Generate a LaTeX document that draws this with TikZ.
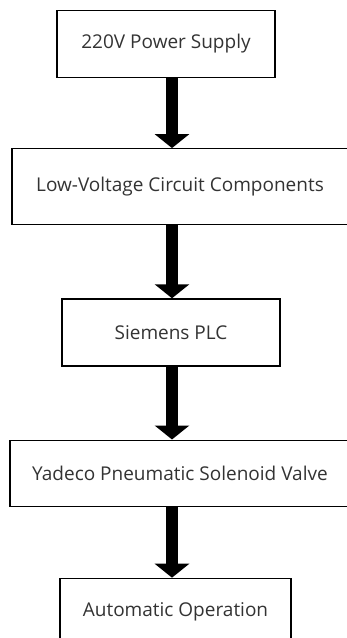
\documentclass[tikz,border=0pt]{standalone}
\usepackage{fontspec}
\setmainfont{Open Sans}
\usepackage{tikz}
\usetikzlibrary{positioning,arrows.meta}
\usepackage{xcolor}

\begin{document}
\begin{tikzpicture}[
  x=1pt, y=1pt,
  node distance=72pt,
  stage/.style={draw, line width=1.2pt, inner sep=0pt, minimum height=67pt, font=\fontsize{19}{23}\selectfont, text=black!80},
  flow/.style={-{Triangle[width=34pt,length=14pt]}, line width=12pt}
]
\useasboundingbox (0,0) rectangle (346,-638);
\node[stage, minimum width=218pt] (supply) at (166,-44) {220V Power Supply};
\node[stage, minimum width=336pt, minimum height=76pt, below=70pt of supply, xshift=14pt] (lowvolt) {Low-Voltage Circuit Components};
\node[stage, minimum width=218pt, below=73pt of lowvolt, xshift=-9pt] (plc) {Siemens PLC};
\node[stage, minimum width=340pt, minimum height=66pt, below=73pt of plc, xshift=9pt] (valve) {Yadeco Pneumatic Solenoid Valve};
\node[stage, minimum width=231pt, minimum height=68pt, below=71pt of valve, xshift=-4.5pt] (auto) {Automatic Operation};

\coordinate (spine) at (172,0);
\draw[flow] (supply.south -| spine) -- (lowvolt.north -| spine);
\draw[flow] (lowvolt.south -| spine) -- (plc.north -| spine);
\draw[flow] (plc.south -| spine) -- (valve.north -| spine);
\draw[flow] (valve.south -| spine) -- (auto.north -| spine);
\end{tikzpicture}
\end{document}
